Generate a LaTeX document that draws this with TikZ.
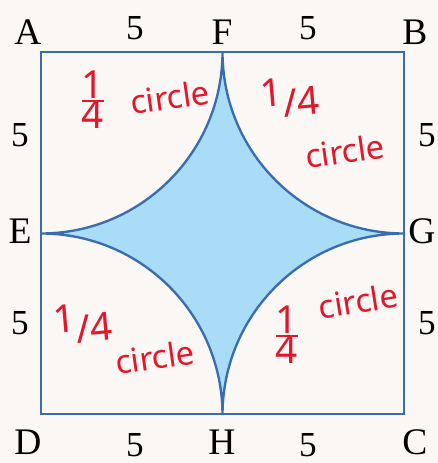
\documentclass[tikz,border=0pt]{standalone}
\usepackage{fontspec}
\setmainfont{Liberation Serif}
\newfontfamily\handfont{Noto Sans}
\definecolor{paper}{HTML}{FBF7F4}
\definecolor{edgeblue}{HTML}{3A6DAF}
\definecolor{skyfill}{HTML}{A9DCF7}
\definecolor{inkred}{HTML}{E3172B}
\newcommand{\quarterfrac}{\shortstack{1\\[-2pt]\rule{0.55em}{2.2pt}\\[-4pt]4}}
\tikzset{
    vertex/.style = {inner sep=1pt, font=\fontsize{32}{34}\selectfont},
    side/.style = {inner sep=1pt, font=\fontsize{30}{32}\selectfont},
    note/.style = {inner sep=0pt, text=inkred, font=\handfont\fontsize{28}{30}\selectfont},
    part/.style = {inner sep=0pt, text=inkred, font=\handfont\fontsize{33}{34}\selectfont}
}
\begin{document}
\begin{tikzpicture}[x=0.03cm,y=0.03cm]
            \useasboundingbox[fill=paper] (0,0) rectangle (438,463);
            % corners and midpoints of the square
            \coordinate (a) at (41,411);
            \coordinate (b) at (404,411);
            \coordinate (c) at (404,49);
            \coordinate (d) at (41,49);
            \coordinate (f) at (222.5,411);
            \filldraw[
                fill = skyfill,
                draw = edgeblue,
                line width = 2pt
            ]
            (f) arc[start angle=0, end angle=-90, radius=181.5]
                arc[start angle=90, end angle=0, radius=181.5]
                arc[start angle=180, end angle=90, radius=181.5]
                arc[start angle=270, end angle=180, radius=181.5] -- cycle;
            \draw[edgeblue, line width=2pt] (a) -- (b) -- (c) -- (d) -- cycle;
            % vertex labels
            \node[vertex] (A) at (28,431) {A};
            \node[vertex] (F) at (222,431) {F};
            \node[vertex] (B) at (415,431) {B};
            \node[vertex] (E) at (20,232) {E};
            \node[vertex] (G) at (422,232) {G};
            \node[vertex] (D) at (28,21) {D};
            \node[vertex] (H) at (222,21) {H};
            \node[vertex] (C) at (415,21) {C};
            % side lengths
            \node[side] (ab1) at (135,435) {5};
            \node[side] (ab2) at (308,435) {5};
            \node[side] (ad1) at (20,328) {5};
            \node[side] (ad2) at (20,140) {5};
            \node[side] (bc1) at (427,328) {5};
            \node[side] (bc2) at (427,140) {5};
            \node[side] (dc1) at (135,18) {5};
            \node[side] (dc2) at (308,18) {5};
            % notes
            \node[part] (q1) at (93,363) {\quarterfrac};
            \node[note, rotate=8] (w1) at (170,366) {circle};
            \node[part, rotate=5] (q2) at (290,366) {\raisebox{0.3em}{1}/4};
            \node[note, rotate=8] (w2) at (345,312) {circle};
            \node[part, rotate=5] (q3) at (83,140) {\raisebox{0.3em}{1}/4};
            \node[note, rotate=8] (w3) at (155,106) {circle};
            \node[part] (q4) at (287,128) {\quarterfrac};
            \node[note, rotate=9] (w4) at (358,162) {circle};
\end{tikzpicture}
\end{document}
